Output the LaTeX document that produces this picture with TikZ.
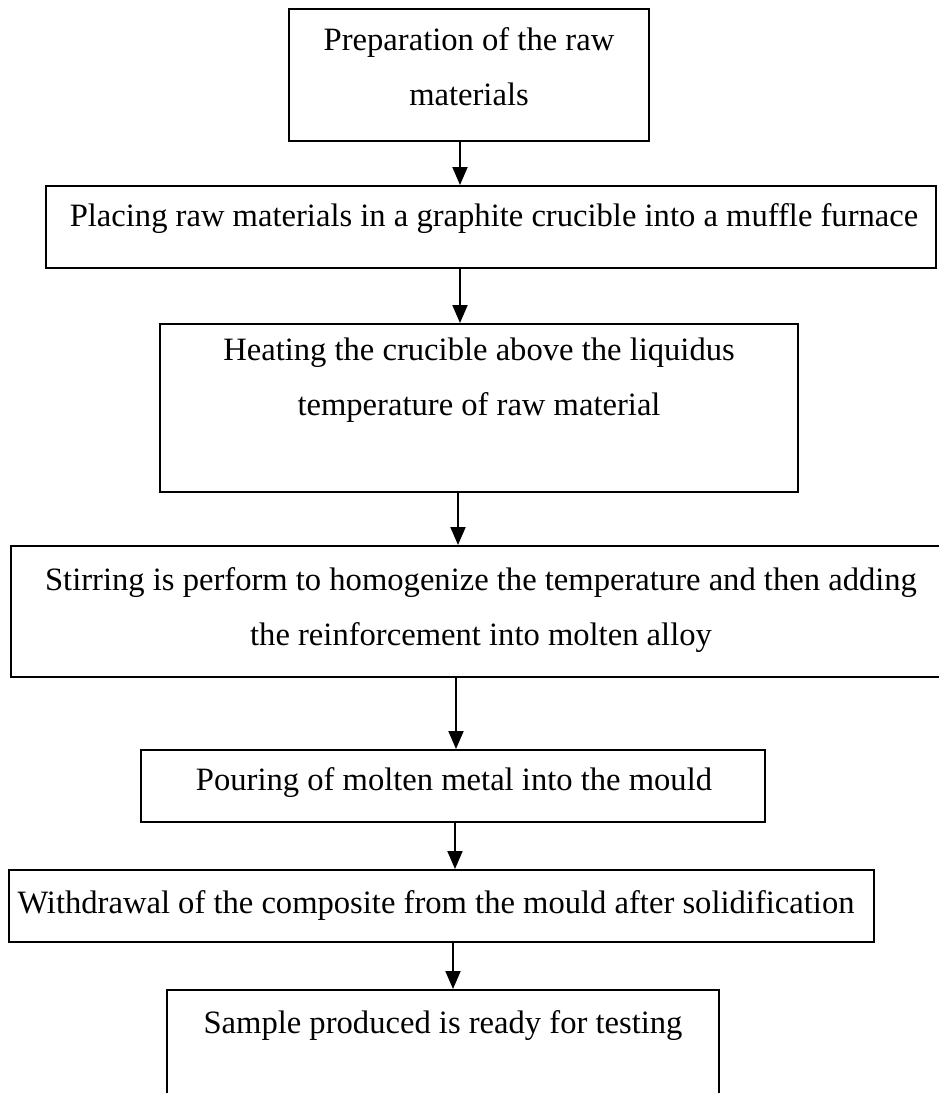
\documentclass[tikz,border=0pt]{standalone}
\usepackage{fontspec}
\setmainfont{Liberation Serif}
\usetikzlibrary{arrows.meta}
\tikzset{
  stepbox/.style={draw=black, line width=2pt, rectangle, inner sep=0pt},
  steptext/.style={align=center, inner sep=0pt, font=\fontsize{32.6}{55}\selectfont},
  arr/.style={draw=black, line width=2pt, -{Triangle[length=18pt,width=15pt]}}
}
\begin{document}
\begin{tikzpicture}[x=1pt,y=-1pt]
\useasboundingbox (0,0) rectangle (939,1093);
% boxes
\node[stepbox, minimum width=360pt, minimum height=132pt] (b1) at (469,75) {};
\node[stepbox, minimum width=890pt, minimum height=82pt] (b2) at (491,227) {};
\node[stepbox, minimum width=638pt, minimum height=168pt] (b3) at (479,408) {};
\node[stepbox, minimum width=940pt, minimum height=131pt] (b4) at (481,611.5) {};
\node[stepbox, minimum width=624pt, minimum height=72pt] (b5) at (453,786) {};
\node[stepbox, minimum width=865pt, minimum height=72pt] (b6) at (441.5,906) {};
\node[stepbox, minimum width=552pt, minimum height=130pt] (b7) at (443,1055) {};
% texts
\node[steptext] (t1) at (469,67) {Preparation of the raw\\materials};
\node[steptext] (t2) at (494,219) {Placing raw materials in a graphite crucible into a muffle furnace};
\node[steptext] (t3) at (479,380) {Heating the crucible above the liquidus\\temperature of raw material};
\node[steptext] (t4) at (481,610) {Stirring is perform to homogenize the temperature and then adding\\the reinforcement into molten alloy};
\node[steptext] (t5) at (454,783) {Pouring of molten metal into the mould};
\node[steptext] (t6) at (436,905) {Withdrawal of the composite from the mould after solidification};
\node[steptext] (t7) at (443,1026) {Sample produced is ready for testing};
% arrows
\draw[arr] (b1.south -| 460,0) -- (b2.north -| 460,0);
\draw[arr] (b2.south -| 460,0) -- (b3.north -| 460,0);
\draw[arr] (b3.south -| 458,0) -- (b4.north -| 458,0);
\draw[arr] (b4.south -| 456,0) -- (b5.north -| 456,0);
\draw[arr] (b5.south -| 455,0) -- (b6.north -| 455,0);
\draw[arr] (b6.south -| 453,0) -- (b7.north -| 453,0);
\end{tikzpicture}
\end{document}
